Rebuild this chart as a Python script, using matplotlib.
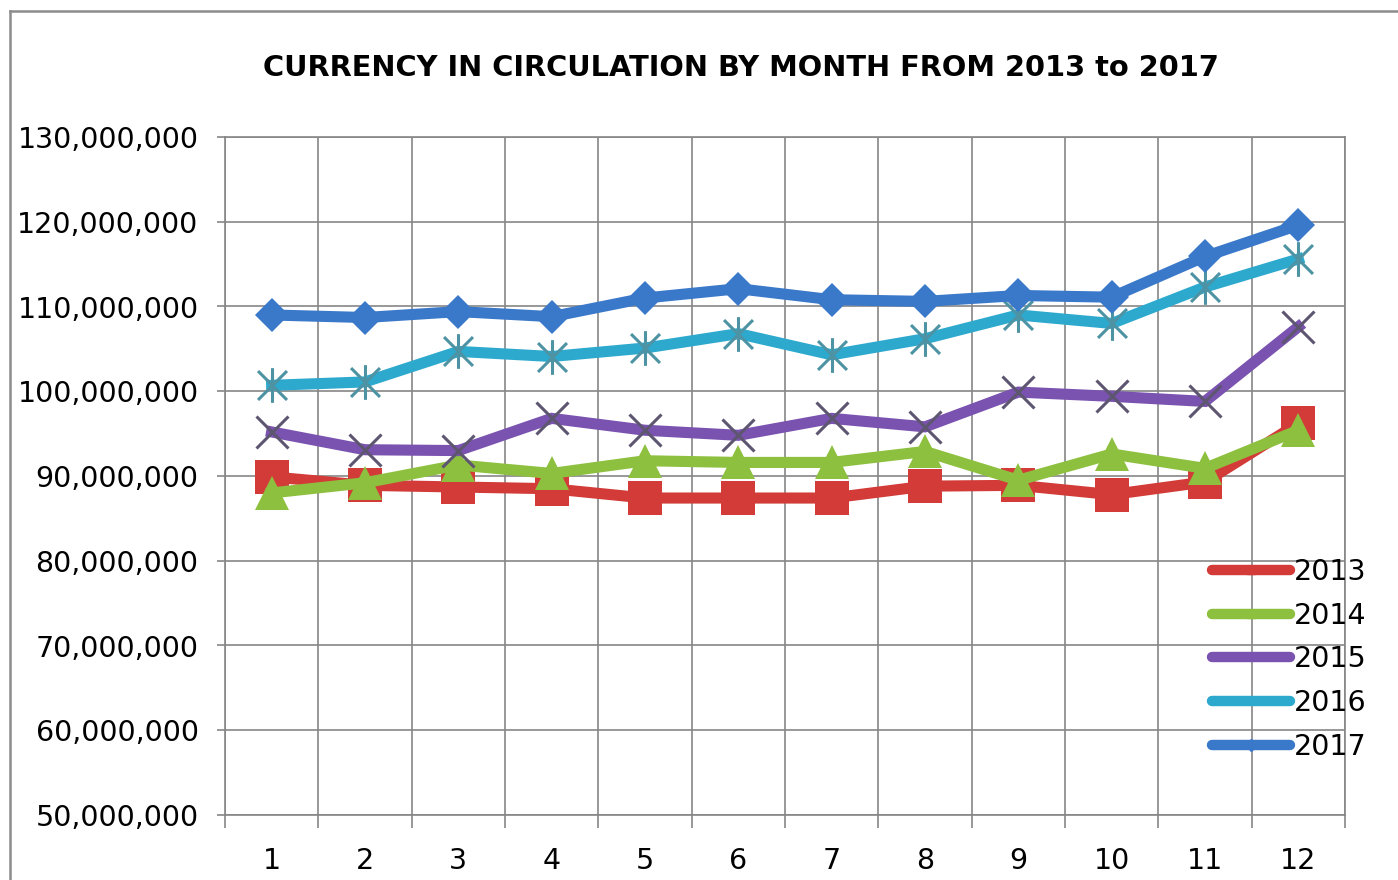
import numpy as np
import matplotlib
matplotlib.use("Agg")
import matplotlib.pyplot as plt
from matplotlib.path import Path
from matplotlib.lines import Line2D
from matplotlib.ticker import FuncFormatter, MultipleLocator

# data (currency in circulation, by month)
months = list(range(1, 13))
years = ["2013", "2014", "2015", "2016", "2017"]
y2013 = [89.9, 88.9, 88.7, 88.5, 87.4, 87.4, 87.4, 88.8, 88.9, 87.8, 89.3, 96.2]
y2014 = [88.0, 89.2, 91.3, 90.3, 91.8, 91.6, 91.6, 92.9, 89.5, 92.6, 90.9, 95.4]
y2015 = [95.2, 93.1, 93.0, 96.8, 95.4, 94.8, 96.8, 95.8, 99.9, 99.4, 98.8, 107.6]
y2016 = [100.7, 101.1, 104.7, 104.1, 105.1, 106.8, 104.3, 106.2, 109.0, 108.0, 112.3, 115.6]
y2017 = [109.0, 108.7, 109.4, 108.8, 111.0, 112.1, 110.8, 110.6, 111.3, 111.1, 115.9, 119.6]
series = [y2013, y2014, y2015, y2016, y2017]

colors = ["#D23B37", "#8EC040", "#7A52B0", "#2EA9CE", "#3A78C9"]

# asterisk marker: an X with a vertical bar through it
ast = Path([(-1, -1), (1, 1), (-1, 1), (1, -1), (0, -1.2), (0, 1.2)],
           [Path.MOVETO, Path.LINETO, Path.MOVETO, Path.LINETO, Path.MOVETO, Path.LINETO])

styles = [
    dict(marker="s", ms=25, mfc=colors[0], mec=colors[0], mew=0),
    dict(marker="^", ms=25, mfc=colors[1], mec=colors[1], mew=0),
    dict(marker="x", ms=23, mec="#5E5670", mew=2.2),
    dict(marker=ast, ms=25, mec="#4E93A3", mew=2.2),
    dict(marker="D", ms=17.5, mfc=colors[4], mec=colors[4], mew=0),
]

plt.rcParams["font.family"] = ["DejaVu Sans"]

fig = plt.figure(figsize=(13.98, 8.8), dpi=100)
ax = fig.add_axes([225 / 1398, 1 - 815 / 880, (1345 - 225) / 1398, (815 - 137) / 880])

for vals, c, st, lab in zip(series, colors, styles, years):
    ax.plot(months, np.array(vals) * 1e6, color=c, lw=8, label=lab,
            solid_joinstyle="miter", zorder=3, **st)

ax.set_xlim(0.5, 12.5)
ax.set_ylim(50e6, 130e6)
ax.yaxis.set_major_locator(MultipleLocator(10e6))
ax.yaxis.set_major_formatter(FuncFormatter(lambda v, p: f"{int(round(v)):,}"))
ax.set_xticks(months)
ax.set_xticks(np.arange(0.5, 13, 1), minor=True)

grid_c = "#868686"
ax.grid(axis="y", which="major", color=grid_c, lw=1.2)
ax.grid(axis="x", which="minor", color=grid_c, lw=1.2)
ax.set_axisbelow(True)
for s in ax.spines.values():
    s.set_color(grid_c)
    s.set_linewidth(1.2)

ax.tick_params(axis="y", which="major", length=6, width=1.2, color=grid_c,
               labelsize=20.5, pad=13)
ax.tick_params(axis="x", which="major", length=0, labelsize=20.5, pad=23)
ax.tick_params(axis="x", which="minor", length=9, width=1.2, color=grid_c)
ax.tick_params(axis="y", which="minor", length=0)

handles = [Line2D([0], [0], color=c, lw=7.5, solid_capstyle="round",
                  marker=st["marker"], ms=6, mfc=c, mec=c) for c, st in zip(colors, styles)]
ax.legend(handles, years, loc="upper left", bbox_to_anchor=(1212 / 1398, 1 - 558 / 880),
          bbox_transform=fig.transFigure, frameon=False, fontsize=20.5,
          handlelength=2.75, handletextpad=0.12, labelspacing=0.55,
          borderpad=0, borderaxespad=0)

fig.text(741 / 1398, 1 - 68 / 880, "CURRENCY IN CIRCULATION BY MONTH FROM 2013 to 2017",
         ha="center", va="center", fontsize=20.8, fontweight="bold")

# chart area border (left and top edges visible)
fig.add_artist(Line2D([10 / 1398, 10 / 1398], [0, 1 - 11 / 880], color="#8C8C8C", lw=1.8))
fig.add_artist(Line2D([10 / 1398, 1], [1 - 11 / 880, 1 - 11 / 880], color="#8C8C8C", lw=1.8))

fig.savefig("out.png", dpi=100)
